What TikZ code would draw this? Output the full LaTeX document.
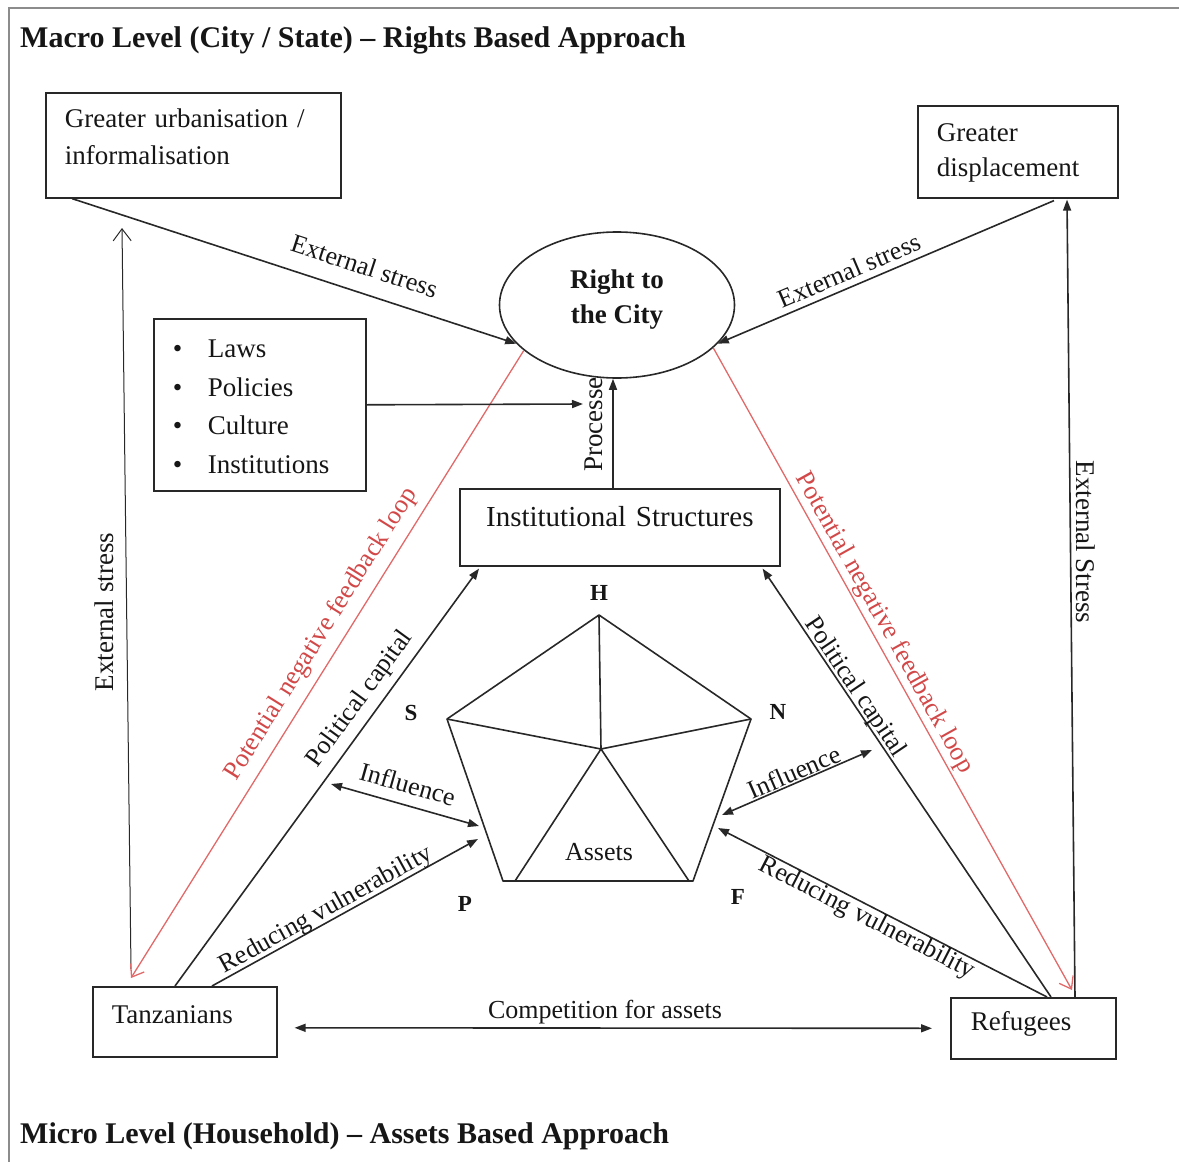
\documentclass[tikz,border=0pt]{standalone}
\usepackage{fontspec}
\setmainfont{Liberation Serif}
\usetikzlibrary{arrows.meta,calc,shapes.geometric}
\definecolor{ink}{RGB}{22,22,22}
\definecolor{lc}{RGB}{40,40,40}
\definecolor{fb}{RGB}{226,105,105}
\definecolor{fbt}{RGB}{210,72,72}
\definecolor{framec}{RGB}{140,140,140}
\begin{document}
\begin{tikzpicture}[x=1pt,y=-1pt,
  every node/.style={text=ink},
  bodyf/.style={font=\fontsize{27}{37}\selectfont},
  box/.style={draw=lc, line width=1.6pt, anchor=north west, inner ysep=0pt, inner xsep=19pt, align=left, bodyf},
  ln/.style={draw=lc, line width=1.6pt},
  arr/.style={ln, -{Triangle[length=11pt,width=8pt]}},
  darr/.style={ln, {Triangle[length=11pt,width=8pt]}-{Triangle[length=11pt,width=8pt]}},
  fbarr/.style={draw=fb, line width=1.3pt, -{Straight Barb[length=11pt,width=16pt]}},
  lab/.style={font=\fontsize{26}{30}\selectfont, inner sep=0pt},
  labA/.style={lab, sloped, anchor=south, text depth=#1},
  labB/.style={lab, sloped, anchor=north, text height=#1},
  vert/.style={font=\bfseries\fontsize{23}{26}\selectfont, inner sep=0pt},
  ttl/.style={font=\bfseries\fontsize{30}{36}\selectfont, inner sep=0pt, anchor=base west}
]
\useasboundingbox (0,0) rectangle (1179,1162);
\draw[framec, line width=2pt] (9,1162) -- (9,8) -- (1179,8);

% titles
\node[ttl] (macro) at (20,47) {Macro Level (City / State) – Rights Based Approach};
\node[ttl] (micro) at (20,1143) {Micro Level (Household) – Assets Based Approach};

% boxes
\node[box, text width=257pt, text height=35pt, text depth=70pt] (gu) at (45,92) {Greater urbanisation /\\informalisation};
\node[box, text width=162pt, text height=36pt, text depth=56pt, font=\fontsize{27}{35}\selectfont] (gd) at (917,105) {Greater\\displacement};
\node[box, text width=174pt, text height=39pt, text depth=133pt, font=\fontsize{27}{38.5}\selectfont] (bl) at (153,318)
  {\makebox[35pt][l]{\textbullet}Laws\\\makebox[35pt][l]{\textbullet}Policies\\\makebox[35pt][l]{\textbullet}Culture\\\makebox[35pt][l]{\textbullet}Institutions};
\node[box, text width=282pt, align=center, text height=38pt, text depth=39pt, font=\fontsize{29}{35}\selectfont] (is) at (459,488) {Institutional Structures};
\node[box, text width=146pt, text height=36.5pt, text depth=33.5pt] (tz) at (92,986) {Tanzanians};
\node[box, inner xsep=20pt, text width=125pt, text height=33pt, text depth=28pt] (rf) at (950,997) {Refugees};
\node[ellipse, draw=lc, line width=1.6pt, minimum width=235pt, minimum height=146pt, inner sep=0pt,
  text height=20pt, text depth=54pt, font=\bfseries\fontsize{27}{35}\selectfont] (rc) at (617,305)
  {\parbox[t]{130pt}{\centering Right to\\the City}};

% pentagon of assets
\coordinate (pH) at (599,615);
\coordinate (pN) at (751,719);
\coordinate (pF) at (693,881);
\coordinate (pP) at (503,881);
\coordinate (pS) at (447,719);
\coordinate (pO) at (601,749);
\coordinate (pPi) at (515,881);
\coordinate (pFi) at (689,881);
\draw[ln, line join=round] (pH) -- (pN) -- (pF) -- (pP) -- (pS) -- cycle;
\draw[ln] (pO) -- (pH) (pO) -- (pN) (pO) -- (pS) (pO) -- (pPi) (pO) -- (pFi);
\node[vert] (lH) at (599,593) {H};
\node[vert] (lS) at (411,713) {S};
\node[vert] (lN) at (778,712) {N};
\node[vert] (lP) at (465,904) {P};
\node[vert] (lF) at (738,897) {F};
\node[lab] (assets) at (599,852) {Assets};

% external stress (top)
\draw[arr] ($(gu.south west)+(27,0)$) -- node[labA=17pt, pos=0.64] (l1) {External stress} (rc.201);
\draw[arr] ($(gd.south west)+(137,2)$) -- node[labA=6pt, pos=0.59] (l2) {External stress} (rc.-21);

% vertical external stress
\coordinate (esLtop) at (122,228);
\draw[lc, line width=1pt, -{Straight Barb[length=12pt,width=18pt]}] ($(tz.north west)+(39,-17)$) -- (esLtop);
\node[lab, rotate=90, font=\fontsize{27}{30}\selectfont] (l3) at (104.5,612) {External stress};
\draw[arr] ($(rf.north west)+(125,0)$) -- ($(gd.south west)+(150,1)$);
\node[lab, rotate=-90, font=\fontsize{27}{30}\selectfont] (l4) at (1086,542) {External Stress};

% feedback loops
\draw[fbarr] (rc.206) -- node[labA=14pt, pos=0.47, text=fbt] (l5) {Potential negative feedback loop} ($(tz.north west)+(39,-8)$);
\draw[fbarr] (rc.-24) -- node[labA=8pt, pos=0.44, text=fbt] (l6) {Potential negative feedback loop} ($(rf.north west)+(122,-7)$);

% processes
\coordinate (px) at (613,0);
\draw[arr] (is.north -| px) -- node[lab, rotate=90, anchor=south, text depth=10pt, pos=0.58, font=\fontsize{27}{30}\selectfont] (l7) {Processe} (rc.south -| px);

% laws arrow
\coordinate (lawsin) at (583,404);
\draw[arr] (bl.east) -- (lawsin);

% political capital
\draw[arr] ($(tz.north west)+(83,0)$) -- node[labA=12pt, pos=0.66] (l8) {Political capital} ($(is.south west)+(20,2)$);
\draw[arr] ($(rf.north west)+(101,0)$) -- node[labA=3pt, pos=0.71] (l9) {Political capital} ($(is.south east)+(-18,2)$);

% reducing vulnerability
\coordinate (rvL) at (478,839);
\draw[arr] ($(tz.north west)+(120,0)$) -- node[labA=4pt, pos=0.45] (l10) {Reducing vulnerability} (rvL);
\coordinate (rvR) at (718,828);
\draw[arr] ($(rf.north west)+(97,0)$) -- node[labB=18pt, pos=0.53] (l11) {Reducing vulnerability} (rvR);

% influence
\coordinate (inLa) at (331,784);
\coordinate (inLb) at (479,826);
\draw[darr] (inLa) -- node[labA=11pt, pos=0.48] (l12) {Influence} (inLb);
\coordinate (inRa) at (722,815);
\coordinate (inRb) at (872,750);
\draw[darr] (inRa) -- node[labA=1pt, pos=0.51] (l13) {Influence} (inRb);

% competition
\draw[darr] ($(tz.east)+(17,6)$) -- node[lab, anchor=south, text depth=9pt, pos=0.487] (l14) {Competition for assets} ($(rf.west)+(-18,0)$);
\end{tikzpicture}
\end{document}
